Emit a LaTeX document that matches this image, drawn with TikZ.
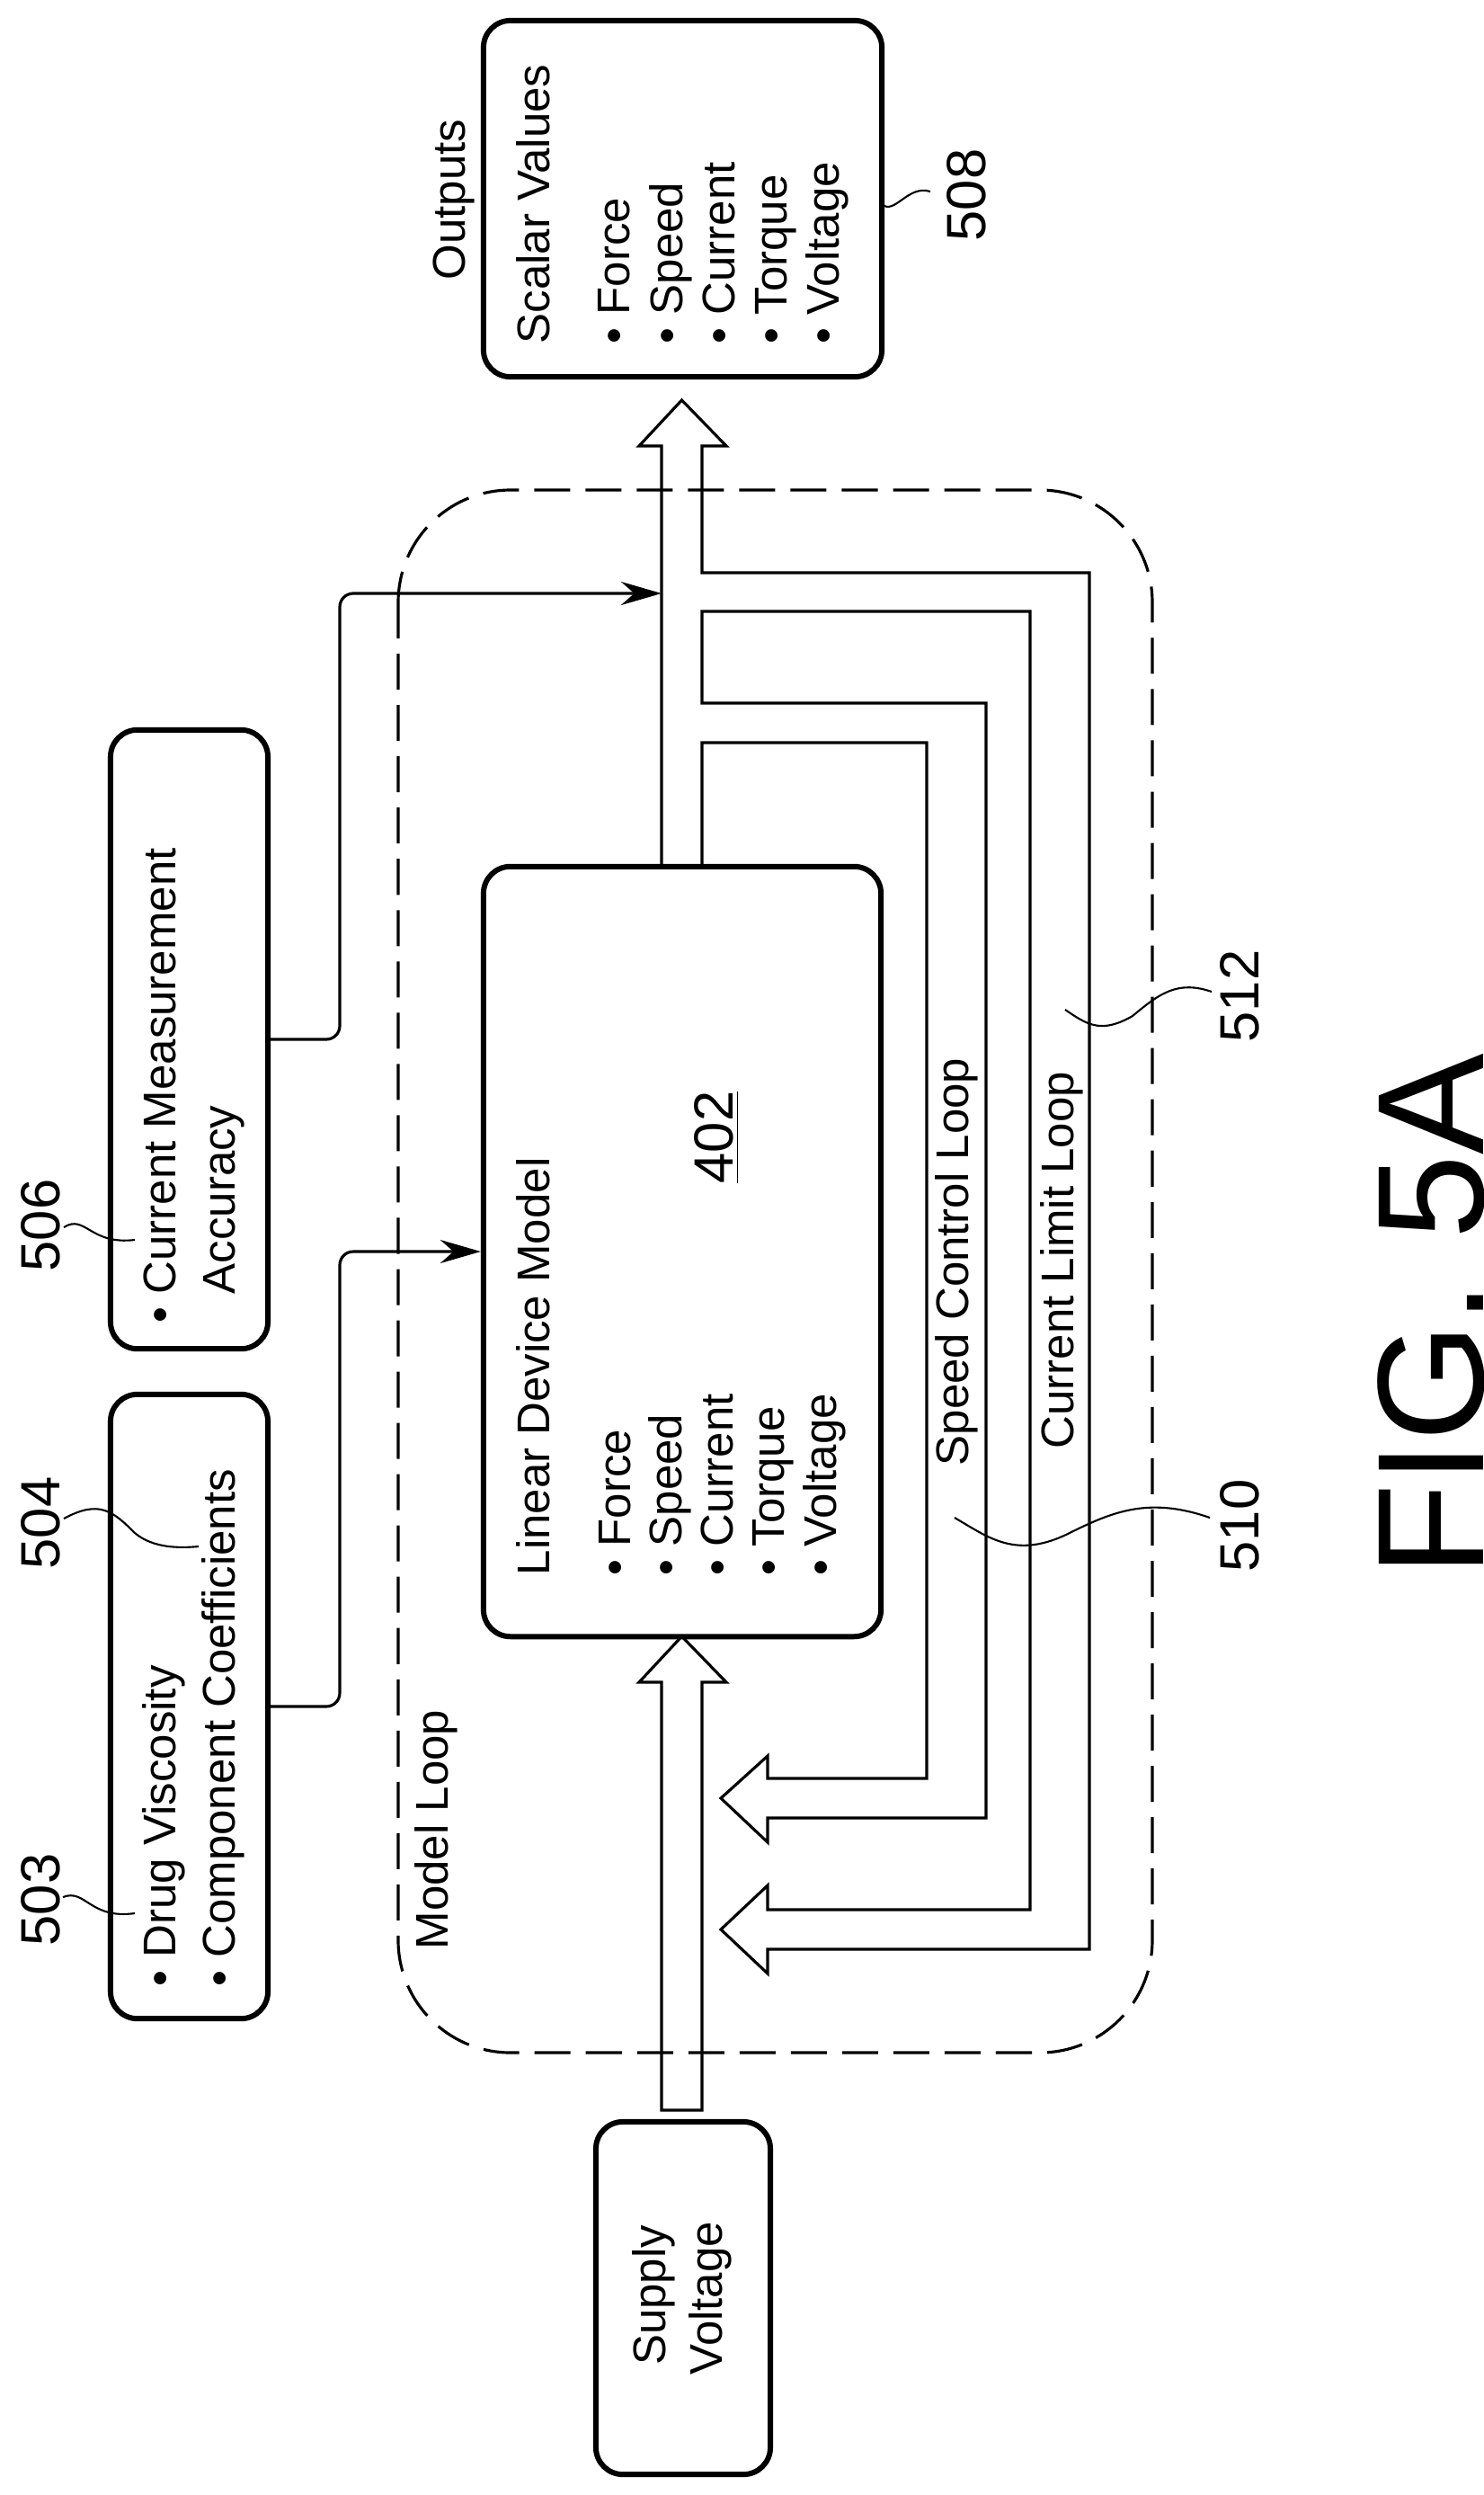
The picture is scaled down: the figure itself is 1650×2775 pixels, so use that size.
\documentclass[tikz,border=0pt]{standalone}
\usepackage{fontspec}
\setmainfont{Liberation Sans}
\usetikzlibrary{arrows.meta}
\newcommand\fmain{\fontsize{14.5}{17}\selectfont}
\newcommand\fnum{\fontsize{17.5}{20}\selectfont}
\begin{document}
\begin{tikzpicture}[x=0.01cm,y=-0.01cm,
  box/.style={draw,line width=1.7pt,rounded corners=0.3cm,inner sep=0},
  txt/.style={rotate=90,font=\fmain,inner sep=0},
  num/.style={rotate=90,font=\fnum,inner sep=0,anchor=base},
  hollow/.style={draw,line width=0.9pt,line join=miter},
  conn/.style={draw,line width=0.9pt,rounded corners=0.15cm,-{Stealth[length=0.45cm,width=0.26cm]}},
  leader/.style={draw,line width=0.6pt},
  loopline/.style={draw,line width=0.9pt,dash pattern=on 0.4cm off 0.17cm,rounded corners=1.25cm}]
\useasboundingbox (0,0) rectangle (1650,2775);
% dashed model loop region
\draw[loopline] (443,545) rectangle (1282,2283);
% boxes
\node[box,minimum width=4.43cm,minimum height=3.96cm] (out) at (759.5,221) {};
\node[box,minimum width=4.42cm,minimum height=8.56cm] (model) at (759,1392) {};
\node[box,minimum width=1.75cm,minimum height=6.88cm] (b506) at (210.5,1156) {};
\node[box,minimum width=1.75cm,minimum height=6.94cm] (b503) at (210.5,1898) {};
\node[box,minimum width=1.94cm,minimum height=3.92cm] (supply) at (760,2556) {};
% output arrow with feedback channels
\draw[hollow] (736,964) -- (736,496) -- (711,496) -- (758.5,445) -- (808,496) -- (781,496)
  -- (781,637) -- (1212,637) -- (1212,2168) -- (854,2168) -- (854,2195) -- (802,2146)
  -- (854,2097) -- (854,2124) -- (1146,2124) -- (1146,680) -- (781,680) -- (781,782)
  -- (1097,782) -- (1097,2022) -- (854,2022) -- (854,2049) -- (802,2000) -- (854,1953)
  -- (854,1978) -- (1031,1978) -- (1031,826) -- (781,826) -- (781,964);
% input arrow
\draw[hollow] (736,2347) -- (736,1871) -- (711,1871) -- (758.5,1820) -- (808,1871)
  -- (781,1871) -- (781,2347) -- cycle;
% connectors
\coordinate (shaftin) at (736,660);
\draw[conn] (b506.east) -- (378,1156) -- (378,660) -- (shaftin);
\draw[conn] (b503.east) -- (378,1898) -- (378,1392) -- (model.west);
% texts in boxes
\node[txt,anchor=base] (outlbl) at (517,222) {Outputs};
\node[txt,anchor=base west] (sv) at (611,383) {Scalar Values};
\node[txt,anchor=base west] (o1) at (700,383) {\textbullet\ Force};
\node[txt,anchor=base west] (o2) at (759,383) {\textbullet\ Speed};
\node[txt,anchor=base west] (o3) at (817,383) {\textbullet\ Current};
\node[txt,anchor=base west] (o4) at (875,383) {\textbullet\ Torque};
\node[txt,anchor=base west] (o5) at (933,383) {\textbullet\ Voltage};
\node[txt,anchor=base west] (ldm) at (611,1753) {Linear Device Model};
\node[txt,anchor=base west] (m1) at (701,1753) {\textbullet\ Force};
\node[txt,anchor=base west] (m2) at (758,1753) {\textbullet\ Speed};
\node[txt,anchor=base west] (m3) at (815,1753) {\textbullet\ Current};
\node[txt,anchor=base west] (m4) at (872,1753) {\textbullet\ Torque};
\node[txt,anchor=base west] (m5) at (930,1753) {\textbullet\ Voltage};
\node[txt,anchor=base,font=\fnum] (n402) at (815,1265) {\underline{402}};
\node[txt,anchor=base west] (c1) at (195,1472) {\textbullet\ Current Measurement};
\node[txt,anchor=base west] (c2) at (261,1472) {\phantom{\textbullet\ }Accuracy};
\node[txt,anchor=base west] (d1) at (195,2210) {\textbullet\ Drug Viscosity};
\node[txt,anchor=base west] (d2) at (261,2210) {\textbullet\ Component Coefficients};
\node[txt,anchor=base] (s1) at (740,2553) {Supply};
\node[txt,anchor=base] (s2) at (803,2556) {Voltage};
\node[txt,anchor=base west] (ml) at (498,2169) {Model Loop};
\node[txt,anchor=base west] (scl) at (1077,1631) {Speed Control Loop};
\node[txt,anchor=base west] (cll) at (1194,1612) {Current Limit Loop};
% reference numerals
\node[num] (l506) at (66,1363) {506};
\node[num] (l503) at (66,2113) {503};
\node[num] (l504) at (66,1694) {504};
\node[num] (l508) at (1096,217) {508};
\node[num] (l510) at (1400,1697) {510};
\node[num] (l512) at (1400,1108) {512};
\node[rotate=90,anchor=base,inner sep=0,font=\fontsize{48}{56}\selectfont] (fig) at (1650,1463) {FIG. 5A};
% leaders
\draw[leader] (71,1365) .. controls (95,1350) and (100,1385) .. (150,1379);
\draw[leader] (70,2110) .. controls (95,2100) and (100,2135) .. (150,2128);
\draw[leader] (71,1689) .. controls (110,1668) and (125,1680) .. (150,1705) .. controls (170,1722) and (200,1722) .. (221,1720);
\draw[leader] (981,227) .. controls (995,240) and (1010,205) .. (1035,213);
\draw[leader] (1062,1688) .. controls (1100,1710) and (1130,1735) .. (1190,1705) .. controls (1240,1680) and (1280,1665) .. (1346,1688);
\draw[leader] (1185,1123) .. controls (1210,1140) and (1225,1150) .. (1260,1130) .. controls (1290,1105) and (1310,1090) .. (1348,1103);
\end{tikzpicture}
\end{document}
